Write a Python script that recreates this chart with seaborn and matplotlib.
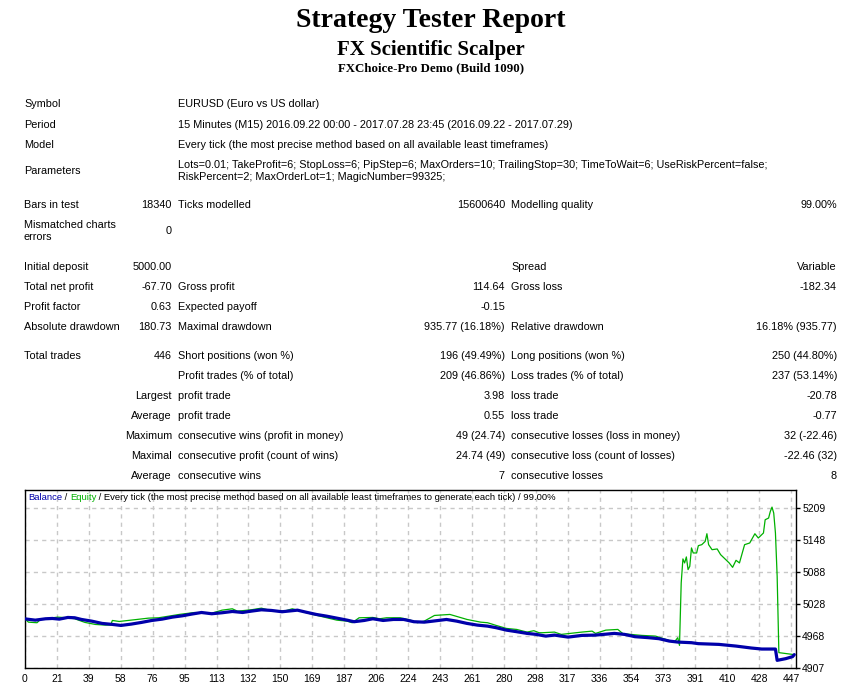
import matplotlib
matplotlib.use("Agg")
import matplotlib.pyplot as plt
import numpy as np
import seaborn as sns

# balance / equity curve
balance_trade = [0, 6, 12, 16, 20, 25, 29, 33, 39, 45, 51, 56, 62, 68, 74, 80, 86, 92, 97, 103,
                 109, 115, 121, 127, 132, 138, 144, 150, 159, 164, 170, 176, 182, 188, 192, 198,
                 203, 209, 215, 221, 227, 233, 238, 246, 252, 258, 264, 270, 275, 281, 287, 293,
                 298, 304, 309, 317, 325, 333, 344, 350, 356, 364, 370, 376, 381, 389, 393, 405,
                 415, 424, 430, 438, 439, 444, 448, 449]
balance_value = [5000.0, 4997.6, 5000.2, 5000.8, 4999.5, 5002.7, 5002.1, 4998.9, 4995.7, 4991.4,
                 4989.5, 4987.6, 4990.1, 4993.3, 4997.0, 4999.5, 5003.3, 5005.9, 5008.9, 5012.1,
                 5009.7, 5011.6, 5014.0, 5012.1, 5014.6, 5017.2, 5015.9, 5013.5, 5016.5, 5012.7,
                 5008.4, 5005.2, 5001.4, 4997.6, 4994.6, 4997.0, 5000.2, 4997.0, 4998.9, 4998.9,
                 4994.6, 4993.8, 4995.7, 4998.9, 4995.7, 4991.4, 4988.2, 4986.3, 4983.3, 4978.7,
                 4975.7, 4972.5, 4970.8, 4967.4, 4969.3, 4965.5, 4968.7, 4969.3, 4972.5, 4970.6,
                 4966.3, 4964.4, 4962.5, 4958.0, 4956.1, 4954.9, 4953.1, 4951.7, 4948.5, 4944.8,
                 4942.9, 4942.9, 4921.5, 4924.7, 4928.5, 4932.3]

equity_trade = [0, 2, 7, 9, 19, 25, 29, 35, 41, 47, 50, 51, 55, 64, 72, 78, 84, 90, 99, 109,
                115, 121, 124, 132, 138, 144, 152, 156, 161, 168, 182, 188, 191, 195, 203, 207,
                211, 219, 225, 229, 233, 239, 248, 258, 266, 270, 275, 281, 287, 293, 297, 300,
                302, 309, 313, 325, 331, 333, 339, 346, 349, 360, 368, 374, 379, 381, 382, 383,
                384, 385, 386, 387, 388, 389, 390, 392, 393, 395, 397, 398, 399, 401, 404, 406,
                409, 411, 413, 415, 417, 420, 423, 426, 428, 431, 432, 434, 435, 436, 437, 438,
                439, 440, 449]
equity_value = [5000.0, 4993.8, 4992.7, 4998.9, 5003.3, 5002.1, 5000.2, 4993.3, 4989.5, 4988.2,
                4988.5, 4997.0, 4995.1, 4998.4, 5001.4, 5002.1, 5005.2, 5008.4, 5012.1, 5010.8,
                5016.5, 5019.1, 5014.6, 5017.2, 5020.3, 5015.3, 5015.3, 5019.1, 5014.6, 5008.4,
                4997.6, 4995.7, 4992.7, 5002.1, 5002.7, 5000.2, 5002.1, 5002.1, 4997.6, 4992.7,
                4995.7, 5006.5, 5008.4, 4998.9, 4993.8, 4992.7, 4987.6, 4981.9, 4980.0, 4975.0,
                4977.6, 4973.8, 4973.8, 4975.0, 4970.6, 4975.0, 4976.8, 4972.5, 4978.7, 4980.0,
                4971.9, 4968.7, 4967.4, 4961.2, 4956.1, 4964.4, 4949.8, 5068.2, 5113.5, 5105.9,
                5117.3, 5093.3, 5099.5, 5134.3, 5124.8, 5124.8, 5138.6, 5140.5, 5146.7, 5161.2,
                5140.5, 5131.0, 5132.4, 5121.6, 5112.2, 5105.9, 5097.6, 5110.9, 5105.9, 5140.5,
                5143.7, 5161.2, 5153.1, 5162.6, 5187.7, 5190.9, 5203.3, 5211.6, 5200.3, 5162.6,
                5080.7, 4936.1, 4932.3]

x_tick_labels = ['0', '21', '39', '58', '76', '95', '113', '132', '150', '169', '187', '206',
                 '224', '243', '261', '280', '298', '317', '336', '354', '373', '391', '410',
                 '428', '447']
y_tick_labels = ['4907', '4968', '5028', '5088', '5148', '5209']

# report table: y, left label, value, label, value, label, value
report_rows = [
    (104, "Symbol", "", "EURUSD (Euro vs US dollar)", "", "", ""),
    (125, "Period", "", "15 Minutes (M15) 2016.09.22 00:00 - 2017.07.28 23:45 (2016.09.22 - 2017.07.29)", "", "", ""),
    (145, "Model", "", "Every tick (the most precise method based on all available least timeframes)", "", "", ""),
    (171, "Parameters", "", "Lots=0.01; TakeProfit=6; StopLoss=6; PipStep=6; MaxOrders=10; TrailingStop=30; "
          "TimeToWait=6; UseRiskPercent=false;\nRiskPercent=2; MaxOrderLot=1; MagicNumber=99325;", "", "", ""),
    (205, "Bars in test", "18340", "Ticks modelled", "15600640", "Modelling quality", "99.00%"),
    (231, "Mismatched charts\nerrors", "0", "", "", "", ""),
    (267, "Initial deposit", "5000.00", "", "", "Spread", "Variable"),
    (287, "Total net profit", "-67.70", "Gross profit", "114.64", "Gross loss", "-182.34"),
    (307, "Profit factor", "0.63", "Expected payoff", "-0.15", "", ""),
    (327, "Absolute drawdown", "180.73", "Maximal drawdown", "935.77 (16.18%)", "Relative drawdown", "16.18% (935.77)"),
    (356, "Total trades", "446", "Short positions (won %)", "196 (49.49%)", "Long positions (won %)", "250 (44.80%)"),
    (376, "", "", "Profit trades (% of total)", "209 (46.86%)", "Loss trades (% of total)", "237 (53.14%)"),
    (396, "", "Largest", "profit trade", "3.98", "loss trade", "-20.78"),
    (416, "", "Average", "profit trade", "0.55", "loss trade", "-0.77"),
    (436, "", "Maximum", "consecutive wins (profit in money)", "49 (24.74)", "consecutive losses (loss in money)", "32 (-22.46)"),
    (456, "", "Maximal", "consecutive profit (count of wins)", "24.74 (49)", "consecutive loss (count of losses)", "-22.46 (32)"),
    (476, "", "Average", "consecutive wins", "7", "consecutive losses", "8"),
]

W, H = 854, 692
sns.set_style("white")
plt.rcParams['font.family'] = ['Liberation Sans', 'DejaVu Sans']
plt.rcParams.update({'text.color': 'black', 'xtick.color': 'black', 'ytick.color': 'black',
                     'axes.labelcolor': 'black'})

fig = plt.figure(figsize=(W / 100, H / 100), dpi=100)
fig.patch.set_facecolor('white')


def px(x, y):
    return x / W, 1 - y / H


serif = ['Liberation Serif', 'DejaVu Serif']
fig.text(*px(431, 27), "Strategy Tester Report", ha='center', va='baseline',
         fontsize=20, fontweight='bold', family=serif)
fig.text(*px(431, 55), "FX Scientific Scalper", ha='center', va='baseline',
         fontsize=15, fontweight='bold', family=serif)
fig.text(*px(431, 71), "FXChoice-Pro Demo (Build 1090)", ha='center', va='baseline',
         fontsize=9.3, fontweight='bold', family=serif)

fs = 7.8
for y, a, b, c, d, e, f in report_rows:
    kw = dict(va='center', fontsize=fs, linespacing=1.35)
    if a:
        fig.text(*px(24, y), a, ha='left', **kw)
    if b:
        fig.text(*px(172, y), b, ha='right', **kw)
    if c:
        fig.text(*px(178, y), c, ha='left', **kw)
    if d:
        fig.text(*px(505, y), d, ha='right', **kw)
    if e:
        fig.text(*px(511, y), e, ha='left', **kw)
    if f:
        fig.text(*px(837, y), f, ha='right', **kw)

# chart
ax = fig.add_axes([25 / W, (H - 668) / H, (796 - 25) / W, (668 - 490) / H])
x_ticks = np.arange(len(x_tick_labels)) * 18.63
y_ticks = np.linspace(4907, 5209, len(y_tick_labels))

ax.set_xlim(0, 450)
ax.set_ylim(4907, 5244)
ax.set_xticks(x_ticks)
ax.set_xticklabels(x_tick_labels)
ax.set_yticks(y_ticks)
ax.set_yticklabels(y_tick_labels)
ax.yaxis.tick_right()
ax.tick_params(axis='both', direction='out', length=3, width=1, color='black',
               labelsize=7.5, pad=1.5)
ax.grid(True, color='#c8c8c8', linestyle=(0, (3, 3)), linewidth=1)
for s in ax.spines.values():
    s.set_color('black')
    s.set_linewidth(1)

sns.lineplot(x=equity_trade, y=equity_value, ax=ax, color='#00b000', linewidth=0.9,
             sort=False, estimator=None, zorder=3)
sns.lineplot(x=balance_trade, y=balance_value, ax=ax, color='#0000aa', linewidth=2.3,
             sort=False, estimator=None, zorder=4)
ax.set_xlabel('')
ax.set_ylabel('')

leg_fs = 6.8
t = ax.text(3 / 771, 1 - 7 / 178, "Balance", transform=ax.transAxes, color='#0000aa',
            fontsize=leg_fs, va='center', ha='left')
for part, col in [(" / ", 'black'), ("Equity", '#00b000'),
                  (" / Every tick (the most precise method based on all available least timeframes"
                   " to generate each tick) / 99.00%", 'black')]:
    t = ax.annotate(part, xy=(1, 0), xycoords=t, va='bottom', ha='left', color=col, fontsize=leg_fs)

fig.savefig("out.png", dpi=100, facecolor='white')
